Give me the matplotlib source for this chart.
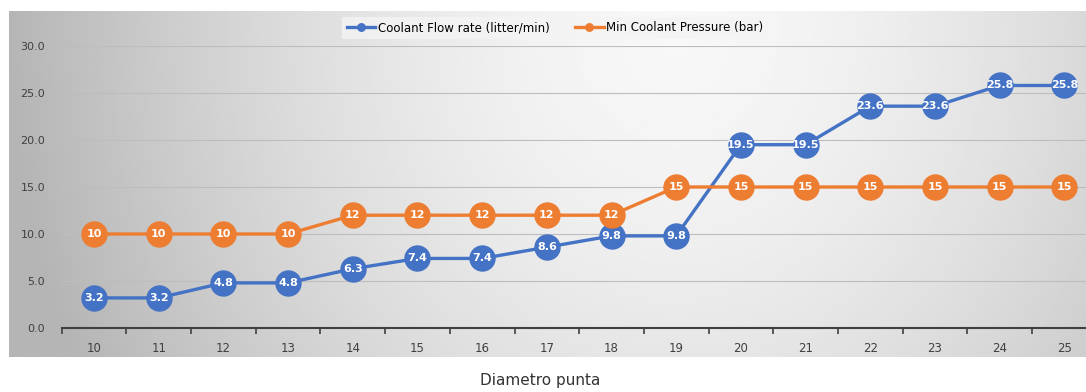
import numpy as np
import matplotlib.pyplot as plt

diametro = [10, 11, 12, 13, 14, 15, 16, 17, 18, 19, 20, 21, 22, 23, 24, 25]
flow_rate = [3.2, 3.2, 4.8, 4.8, 6.3, 7.4, 7.4, 8.6, 9.8, 9.8, 19.5, 19.5, 23.6, 23.6, 25.8, 25.8]
pressure = [10, 10, 10, 10, 12, 12, 12, 12, 12, 15, 15, 15, 15, 15, 15, 15]

blue = '#4472C4'
orange = '#ED7D31'
W, H = 1086, 392

fig = plt.figure(figsize=(W / 100, H / 100), dpi=100)

# gradient chart-area background (grey edges, lighter centre)
bg = fig.add_axes([9 / W, (H - 357) / H, (W - 9) / W, (357 - 11) / H])
xx, yy = np.meshgrid(np.linspace(0, 1, 400), np.linspace(0, 1, 120))
d = np.sqrt(((xx - 0.62) / 0.62) ** 2 + ((yy - 0.05) / 2.2) ** 2)
shade = 0.97 - 0.26 * np.clip(d, 0, 1) ** 1.6
bg.imshow(shade, cmap='gray', vmin=0, vmax=1, aspect='auto', extent=[0, 1, 0, 1])
bg.axis('off')

ax = fig.add_axes([61.7 / W, (H - 328) / H, (1096.7 - 61.7) / W, (328 - 46) / H])
ax.patch.set_alpha(0)
ax.set_xlim(9.5, 25.5)
ax.set_ylim(0, 30)

ax.plot(diametro, flow_rate, color=blue, lw=2.4, marker='o', ms=18,
        label='Coolant Flow rate (litter/min)', zorder=3, clip_on=False)
ax.plot(diametro, pressure, color=orange, lw=2.4, marker='o', ms=18,
        label='Min Coolant Pressure (bar)', zorder=3, clip_on=False)

for x, v in zip(diametro, flow_rate):
    ax.text(x, v, f'{v:g}', ha='center', va='center', color='white',
            fontsize=8, fontweight='bold', zorder=5)
for x, v in zip(diametro, pressure):
    ax.text(x, v, f'{v:g}', ha='center', va='center', color='white',
            fontsize=8, fontweight='bold', zorder=5)

ax.set_yticks(np.arange(0, 31, 5))
ax.set_yticklabels([f'{t:.1f}' for t in np.arange(0, 31, 5)], fontsize=8, color='#404040')
ax.grid(axis='y', color='#bdbdbd', lw=0.8)
ax.set_axisbelow(True)
ax.tick_params(axis='y', length=0, pad=12)

ax.set_xticks(diametro)
ax.set_xticklabels([str(d) for d in diametro], fontsize=8.5, color='#404040')
ax.set_xticks(np.arange(9.5, 25.6, 1), minor=True)
ax.tick_params(axis='x', which='major', length=0, pad=10)
ax.tick_params(axis='x', which='minor', length=4, width=1.2, color='#404040', direction='out')

for s in ['top', 'right', 'left']:
    ax.spines[s].set_visible(False)
ax.spines['bottom'].set_color('#404040')
ax.spines['bottom'].set_linewidth(1.5)

leg = fig.legend(loc='center', bbox_to_anchor=(555 / W, (H - 28) / H), ncol=2,
                 fontsize=8.5, frameon=True, fancybox=False, markerscale=0.3,
                 handlelength=2.4, columnspacing=2.2, handletextpad=0.2)
leg.get_frame().set_facecolor('#f4f4f4')
leg.get_frame().set_edgecolor('none')

fig.text(540 / W, (H - 381) / H, 'Diametro punta', ha='center', va='center',
         fontsize=11, color='#333333')

fig.savefig('out.png', dpi=100)
